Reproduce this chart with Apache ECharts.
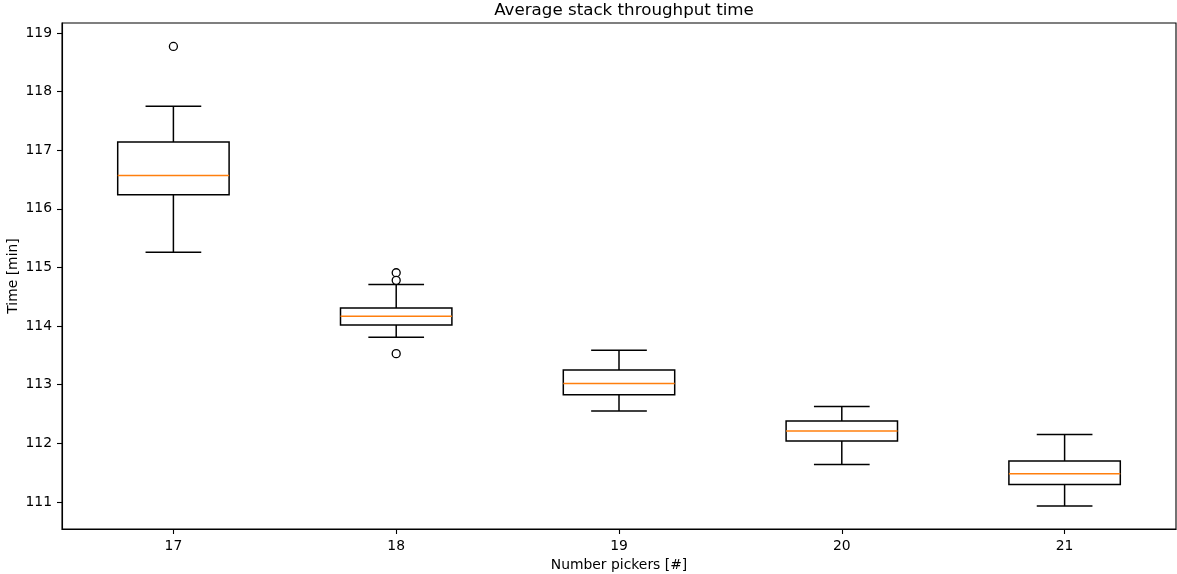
<!DOCTYPE html>
<html>
<head>
<meta charset="utf-8">
<title>Average stack throughput time</title>
<script src="https://cdn.jsdelivr.net/npm/echarts@6/dist/echarts.min.js"></script>
<style>
  html, body { margin: 0; padding: 0; background: #fff; }
  #chart { width: 1177px; height: 574px; }
</style>
</head>
<body>
<div id="chart"></div>
<script>
// Number of pickers on the x axis
var pickers = ['17', '18', '19', '20', '21'];

// Box statistics per picker count (minutes)
var lowerWhisker = [115.26, 113.81, 112.55, 111.64, 110.93];
var q1           = [116.24, 114.02, 112.83, 112.04, 111.30];
var median       = [116.57, 114.17, 113.02, 112.21, 111.48];
var q3           = [117.14, 114.31, 113.25, 112.38, 111.70];
var upperWhisker = [117.75, 114.71, 113.59, 112.63, 112.15];

// Points beyond the whiskers: [picker index, minutes]
var outliers = [
  [0, 118.77],
  [1, 114.91],
  [1, 114.78],
  [1, 113.53]
];

// Y tick values
var yTicks = [111, 112, 113, 114, 115, 116, 117, 118, 119];

var boxData = pickers.map(function (p, i) {
  return [i, lowerWhisker[i], q1[i], median[i], q3[i], upperWhisker[i]];
});

var FONT = 'DejaVu Sans';
var LW = 1.5;

function renderBox(params, api) {
  var x = api.value(0);
  var lo = api.coord([x, api.value(1)]);
  var b1 = api.coord([x, api.value(2)]);
  var md = api.coord([x, api.value(3)]);
  var b3 = api.coord([x, api.value(4)]);
  var hi = api.coord([x, api.value(5)]);
  var band = api.size([1, 0])[0];
  var hb = band * 0.25;    // half box width
  var hc = band * 0.125;   // half cap width
  var cx = lo[0];
  var blk = { stroke: '#000', lineWidth: LW, fill: null };
  return {
    type: 'group',
    children: [
      { type: 'line', shape: { x1: cx, y1: b1[1], x2: cx, y2: lo[1] }, style: blk },
      { type: 'line', shape: { x1: cx, y1: b3[1], x2: cx, y2: hi[1] }, style: blk },
      { type: 'line', shape: { x1: cx - hc, y1: lo[1], x2: cx + hc, y2: lo[1] }, style: blk },
      { type: 'line', shape: { x1: cx - hc, y1: hi[1], x2: cx + hc, y2: hi[1] }, style: blk },
      { type: 'rect', shape: { x: cx - hb, y: b3[1], width: hb * 2, height: b1[1] - b3[1] },
        style: { stroke: '#000', lineWidth: LW, fill: 'rgba(0,0,0,0)' } },
      { type: 'line', shape: { x1: cx - hb, y1: md[1], x2: cx + hb, y2: md[1] },
        style: { stroke: '#ff7f0e', lineWidth: LW } }
    ]
  };
}

var chart = echarts.init(document.getElementById('chart'), null, { renderer: 'canvas' });

chart.setOption({
  animation: false,
  backgroundColor: '#fff',
  title: {
    text: 'Average stack throughput time',
    left: 619,
    textAlign: 'center',
    top: -3,
    textStyle: { fontFamily: FONT, fontSize: 16.7, fontWeight: 'normal', color: '#000' }
  },
  grid: {
    left: 62, right: 1, top: 23, bottom: 45,
    outerBoundsMode: 'none',
    containLabel: false,
    show: true, borderColor: '#000', borderWidth: 1.1, backgroundColor: 'transparent'
  },
  xAxis: {
    type: 'category',
    data: pickers,
    boundaryGap: true,
    name: 'Number pickers [#]',
    nameLocation: 'middle',
    nameGap: 29,
    nameMoveOverlap: false,
    nameTextStyle: { fontFamily: FONT, fontSize: 13.9, color: '#000' },
    axisLine: { show: true, lineStyle: { color: '#000', width: 1.1 } },
    axisTick: { show: true, alignWithLabel: true, length: 5, lineStyle: { color: '#000', width: 1.1 } },
    axisLabel: { fontFamily: FONT, fontSize: 13.9, color: '#000', margin: 10 },
    splitLine: { show: false }
  },
  yAxis: {
    type: 'value',
    min: 110.539,
    max: 119.17,
    name: 'Time [min]',
    nameLocation: 'middle',
    nameGap: 42,
    nameMoveOverlap: false,
    nameRotate: 90,
    nameTextStyle: { fontFamily: FONT, fontSize: 13.9, color: '#000' },
    axisLine: { show: true, lineStyle: { color: '#000', width: 1.1 } },
    axisTick: { show: true, length: 5, customValues: yTicks, lineStyle: { color: '#000', width: 1.1 } },
    axisLabel: { fontFamily: FONT, fontSize: 13.9, color: '#000', margin: 10, customValues: yTicks },
    splitLine: { show: false }
  },
  series: [
    {
      type: 'custom',
      renderItem: renderBox,
      encode: { x: 0, y: [1, 2, 3, 4, 5] },
      data: boxData,
      z: 2
    },
    {
      type: 'scatter',
      data: outliers,
      symbol: 'circle',
      symbolSize: 8,
      itemStyle: { color: '#fff', borderColor: '#000', borderWidth: 1.3, opacity: 1 },
      z: 3
    }
  ]
});
</script>
</body>
</html>
